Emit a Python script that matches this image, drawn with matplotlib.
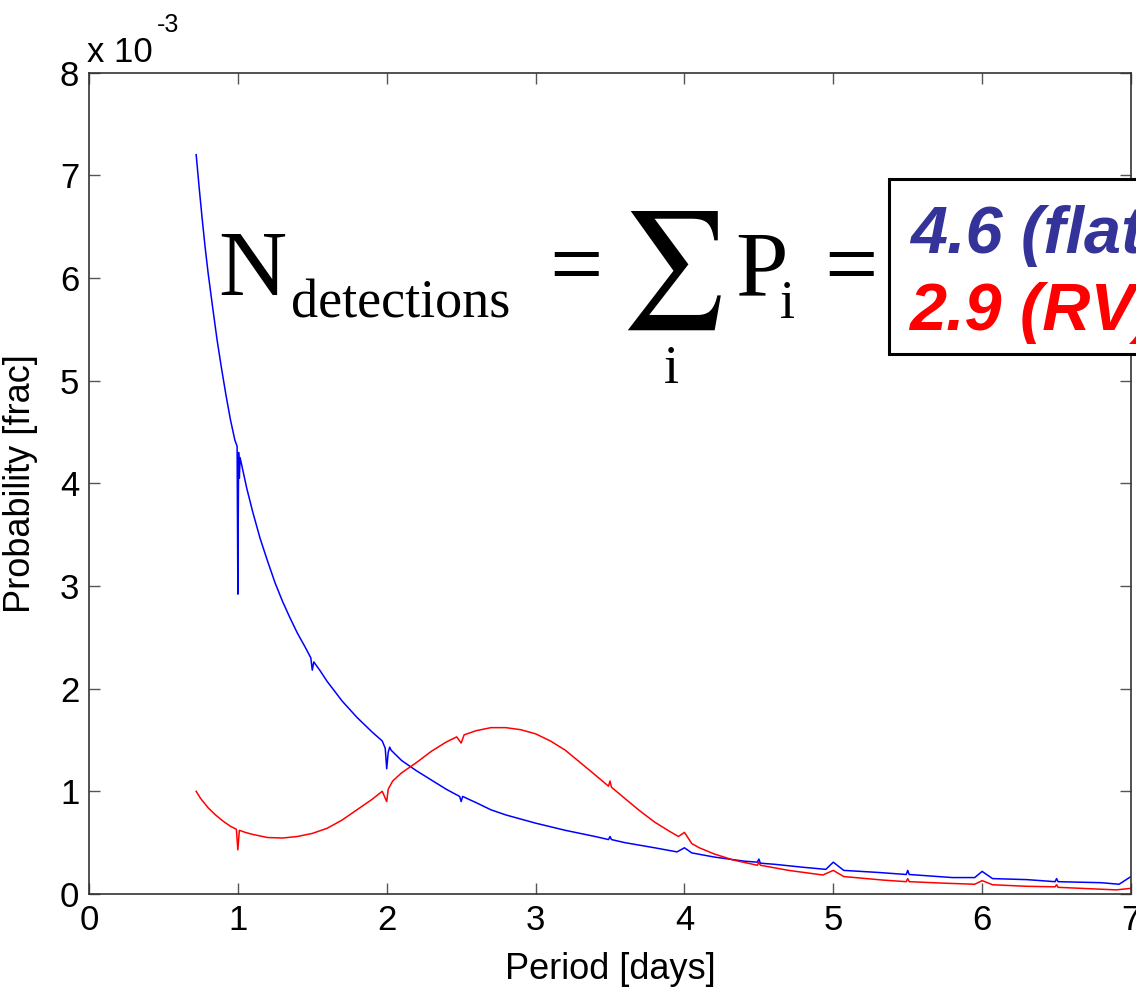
import numpy as np
import matplotlib
matplotlib.use("Agg")
import matplotlib.pyplot as plt
from matplotlib.patches import Rectangle

# Detection probability per orbital period, in units of 1e-3
period_flat = [0.72, 0.74, 0.76, 0.78, 0.80, 0.83, 0.86, 0.89, 0.92, 0.95, 0.98,
               0.995, 1.000, 1.005, 1.010, 1.015, 1.03, 1.06, 1.10, 1.15, 1.20, 1.25,
               1.30, 1.35, 1.40, 1.45, 1.49, 1.50, 1.51, 1.55, 1.60, 1.70, 1.80, 1.90,
               1.97, 1.99, 2.00, 2.01, 2.02, 2.03, 2.10, 2.20, 2.30, 2.40, 2.49, 2.50,
               2.51, 2.60, 2.70, 2.80, 2.90, 3.00, 3.20, 3.40, 3.49, 3.50, 3.51, 3.60,
               3.80, 3.95, 4.00, 4.05, 4.20, 4.40, 4.49, 4.50, 4.51, 4.60, 4.80, 4.95,
               5.00, 5.07, 5.30, 5.49, 5.50, 5.51, 5.80, 5.95, 6.00, 6.07, 6.30, 6.49,
               6.50, 6.51, 6.80, 6.92, 7.00]
prob_flat = [7.20, 6.88, 6.58, 6.30, 6.05, 5.72, 5.40, 5.12, 4.86, 4.62, 4.42,
             4.36, 2.92, 4.30, 4.05, 4.25, 4.15, 3.95, 3.72, 3.46, 3.24, 3.03,
             2.85, 2.69, 2.54, 2.41, 2.30, 2.18, 2.26, 2.18, 2.07, 1.88, 1.72, 1.58,
             1.49, 1.42, 1.22, 1.38, 1.43, 1.40, 1.30, 1.20, 1.11, 1.02, 0.95, 0.90,
             0.95, 0.89, 0.82, 0.77, 0.73, 0.69, 0.62, 0.56, 0.53, 0.56, 0.53, 0.50,
             0.45, 0.41, 0.45, 0.40, 0.36, 0.32, 0.31, 0.34, 0.30, 0.29, 0.26, 0.24,
             0.31, 0.23, 0.21, 0.19, 0.23, 0.19, 0.16, 0.16, 0.22, 0.15, 0.14, 0.12,
             0.15, 0.12, 0.11, 0.095, 0.17]

period_rv = [0.72, 0.75, 0.80, 0.85, 0.90, 0.95, 0.99, 1.00, 1.01, 1.05, 1.10, 1.20,
             1.30, 1.40, 1.50, 1.60, 1.70, 1.80, 1.90, 1.97, 2.00, 2.01, 2.04, 2.10,
             2.20, 2.30, 2.40, 2.47, 2.50, 2.52, 2.60, 2.70, 2.80, 2.90, 3.00, 3.10,
             3.20, 3.30, 3.40, 3.49, 3.50, 3.51, 3.60, 3.70, 3.80, 3.90, 3.96, 4.00,
             4.05, 4.10, 4.20, 4.33, 4.49, 4.50, 4.51, 4.70, 4.93, 5.00, 5.07, 5.33,
             5.49, 5.50, 5.51, 5.75, 5.95, 6.00, 6.07, 6.30, 6.49, 6.50, 6.51, 6.90,
             7.00]
prob_rv = [1.00, 0.93, 0.84, 0.77, 0.71, 0.66, 0.63, 0.43, 0.62, 0.60, 0.58, 0.55,
           0.545, 0.56, 0.59, 0.64, 0.72, 0.82, 0.92, 1.00, 0.90, 1.02, 1.10, 1.18,
           1.28, 1.39, 1.48, 1.53, 1.47, 1.55, 1.59, 1.62, 1.62, 1.60, 1.56, 1.49,
           1.40, 1.28, 1.16, 1.05, 1.10, 1.04, 0.93, 0.81, 0.70, 0.61, 0.56, 0.60,
           0.49, 0.45, 0.39, 0.33, 0.28, 0.31, 0.28, 0.23, 0.185, 0.23, 0.17, 0.136,
           0.12, 0.15, 0.12, 0.105, 0.095, 0.13, 0.09, 0.075, 0.07, 0.09, 0.065, 0.04,
           0.055]

x_ticks = [0, 1, 2, 3, 4, 5, 6, 7]
y_ticks = [0, 1, 2, 3, 4, 5, 6, 7, 8]
scale = 1e-3

W, H = 1136, 994
fig = plt.figure(figsize=(W / 100, H / 100), dpi=100)
fig.patch.set_facecolor("white")

ax = fig.add_axes([89 / W, 1 - 894 / H, (1131 - 89) / W, (894 - 72.5) / H])
ax.plot(period_flat, np.array(prob_flat) * scale, color="#0000ff", lw=1.1)
ax.plot(period_rv, np.array(prob_rv) * scale, color="#ff0000", lw=1.1)

ax.set_xlim(0, 7)
ax.set_ylim(0, 8 * scale)
ax.set_xticks(x_ticks)
ax.set_xticklabels([str(t) for t in x_ticks])
ax.set_yticks(np.array(y_ticks) * scale)
ax.set_yticklabels([str(t) for t in y_ticks])

sans = "Liberation Sans"
for lab in ax.get_xticklabels() + ax.get_yticklabels():
    lab.set_family(sans)
    lab.set_fontsize(25)
ax.tick_params(direction="in", length=8, width=1.0, color="#555555",
               top=True, right=True, pad=7)
for s in ax.spines.values():
    s.set_color("#333333")
    s.set_linewidth(1.2)

ax.set_xlabel("Period [days]", family=sans, fontsize=26)
ax.xaxis.set_label_coords(0.5, -0.07)
ax.set_ylabel("Probability [frac]", family=sans, fontsize=26)
ax.yaxis.set_label_coords(-0.049, 0.5)

def fx(px):
    return px / W

def fy(py):
    return 1 - py / H

# exponent label above the y axis
fig.text(fx(87), fy(62), "x 10", family=sans, fontsize=25, ha="left", va="baseline")
fig.text(fx(157), fy(32), "-3", family=sans, fontsize=18, ha="left", va="baseline")

# summation formula
serif = "Liberation Serif"
big, small = 68, 39
fig.text(fx(218), fy(295), "N", family=serif, fontsize=big, ha="left", va="baseline")
fig.text(fx(291), fy(318), "detections", family=serif, fontsize=small, ha="left", va="baseline")
fig.text(fx(549), fy(295), "=", family=serif, fontsize=big, ha="left", va="baseline")
fig.text(fx(674), fy(270), "\u2211", family="STIXGeneral", fontsize=84, ha="center", va="center")
fig.text(fx(671), fy(383), "i", family=serif, fontsize=small, ha="center", va="baseline")
fig.text(fx(735), fy(295), "P", family=serif, fontsize=big, ha="left", va="baseline")
fig.text(fx(780), fy(318), "i", family=serif, fontsize=small, ha="left", va="baseline")
fig.text(fx(824), fy(295), "=", family=serif, fontsize=big, ha="left", va="baseline")

# result box
box = Rectangle((fx(889), fy(354)), fx(1500) - fx(889), fy(179) - fy(354),
                transform=fig.transFigure, facecolor="white", edgecolor="black",
                linewidth=2.2, zorder=5)
fig.patches.append(box)
fig.text(fx(910), fy(253), "4.6 (flat)", family=sans, fontsize=48, weight="bold",
         style="italic", color="#333399", ha="left", va="baseline", zorder=6)
fig.text(fx(909), fy(330), "2.9 (RV)", family=sans, fontsize=48, weight="bold",
         style="italic", color="#ff0000", ha="left", va="baseline", zorder=6)

fig.savefig("out.png", dpi=100)
